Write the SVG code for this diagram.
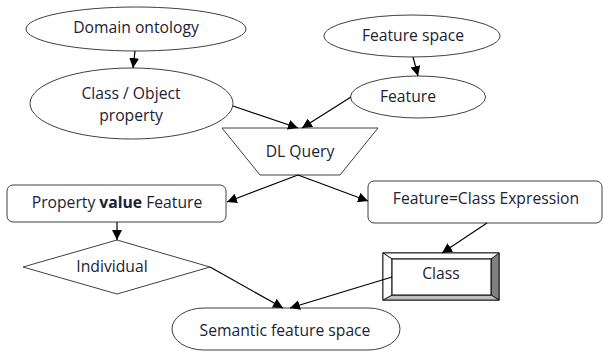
<svg xmlns="http://www.w3.org/2000/svg" width="603" height="356" viewBox="0 0 603 356">
  <style>
    .shape { fill: #ffffff; stroke: #404040; stroke-width: 1; }
    .label { font-family: "Open Sans", "Liberation Sans", sans-serif; font-size: 15.7px; fill: #1b2233; text-anchor: middle; }
    .edge { stroke: #000000; stroke-width: 1.2; fill: none; marker-end: url(#arrow); }
  </style>
  <defs>
    <marker id="arrow" viewBox="0 0 10 10" refX="10" refY="5" markerWidth="10" markerHeight="10" markerUnits="userSpaceOnUse" orient="auto">
      <path d="M0,0 L10,5 L0,10 Z" fill="#000000"/>
    </marker>
  </defs>
  <rect width="603" height="356" fill="#ffffff"/>

  <g id="domain-ontology">
    <ellipse class="shape" cx="136" cy="29" rx="110" ry="22"/>
    <text class="label" x="136" y="33">Domain ontology</text>
  </g>

  <g id="class-object-property">
    <ellipse class="shape" cx="131.5" cy="103.5" rx="101.5" ry="35.5"/>
    <text class="label" x="131" y="99">Class / Object</text>
    <text class="label" x="131" y="121">property</text>
  </g>

  <g id="feature-space">
    <ellipse class="shape" cx="412" cy="36" rx="88" ry="21"/>
    <text class="label" x="413" y="41">Feature space</text>
  </g>

  <g id="feature">
    <ellipse class="shape" cx="418" cy="97" rx="67.5" ry="21"/>
    <text class="label" x="408" y="102">Feature</text>
  </g>

  <g id="dl-query">
    <polygon class="shape" points="222,128 378,128 340,175 260,175"/>
    <text class="label" x="300" y="157">DL Query</text>
  </g>

  <g id="property-value-feature">
    <rect class="shape" x="7" y="185" width="219" height="37" rx="6" ry="6"/>
    <text class="label" x="117" y="208">Property <tspan font-weight="bold">value</tspan> Feature</text>
  </g>

  <g id="feature-class-expression">
    <rect class="shape" x="368" y="181" width="234" height="42" rx="6" ry="6"/>
    <text class="label" x="486" y="204">Feature=Class Expression</text>
  </g>

  <g id="individual">
    <polygon class="shape" points="23,267 117,240 210,267 117,294"/>
    <text class="label" x="112" y="272">Individual</text>
  </g>

  <g id="class">
    <rect x="383" y="253" width="116" height="47" fill="#ffffff" stroke="#000000" stroke-width="1"/>
    <!-- bevel faces -->
    <polygon points="491,259 499,253 499,300 491,295" fill="#808080" stroke="#000000" stroke-width="0.8"/>
    <polygon points="392,295 491,295 499,300 383,300" fill="#c0c0c0" stroke="#000000" stroke-width="0.8"/>
    <polygon points="383,253 499,253 491,259 392,259" fill="#ffffff" stroke="#000000" stroke-width="0.8"/>
    <polygon points="383,253 392,259 392,295 383,300" fill="#ffffff" stroke="#000000" stroke-width="0.8"/>
    <rect x="392" y="259" width="99" height="36" fill="#ffffff" stroke="#000000" stroke-width="1"/>
    <text class="label" x="441" y="279">Class</text>
  </g>

  <g id="semantic-feature-space">
    <rect class="shape" x="172" y="308" width="228" height="42" rx="32" ry="21"/>
    <text class="label" x="285" y="336">Semantic feature space</text>
  </g>

  <g id="connectors">
    <line class="edge" x1="135" y1="51" x2="133" y2="68"/>
    <line class="edge" x1="233" y1="106" x2="298" y2="128"/>
    <line class="edge" x1="413" y1="57" x2="418" y2="76"/>
    <line class="edge" x1="351" y1="97" x2="302" y2="128"/>
    <line class="edge" x1="298" y1="175" x2="227" y2="202"/>
    <line class="edge" x1="298" y1="175" x2="368" y2="201"/>
    <line class="edge" x1="117" y1="222" x2="117" y2="240"/>
    <line class="edge" x1="487" y1="223" x2="442" y2="253"/>
    <line class="edge" x1="210" y1="267" x2="283" y2="308"/>
    <line class="edge" x1="392" y1="277" x2="290" y2="308"/>
  </g>
</svg>
